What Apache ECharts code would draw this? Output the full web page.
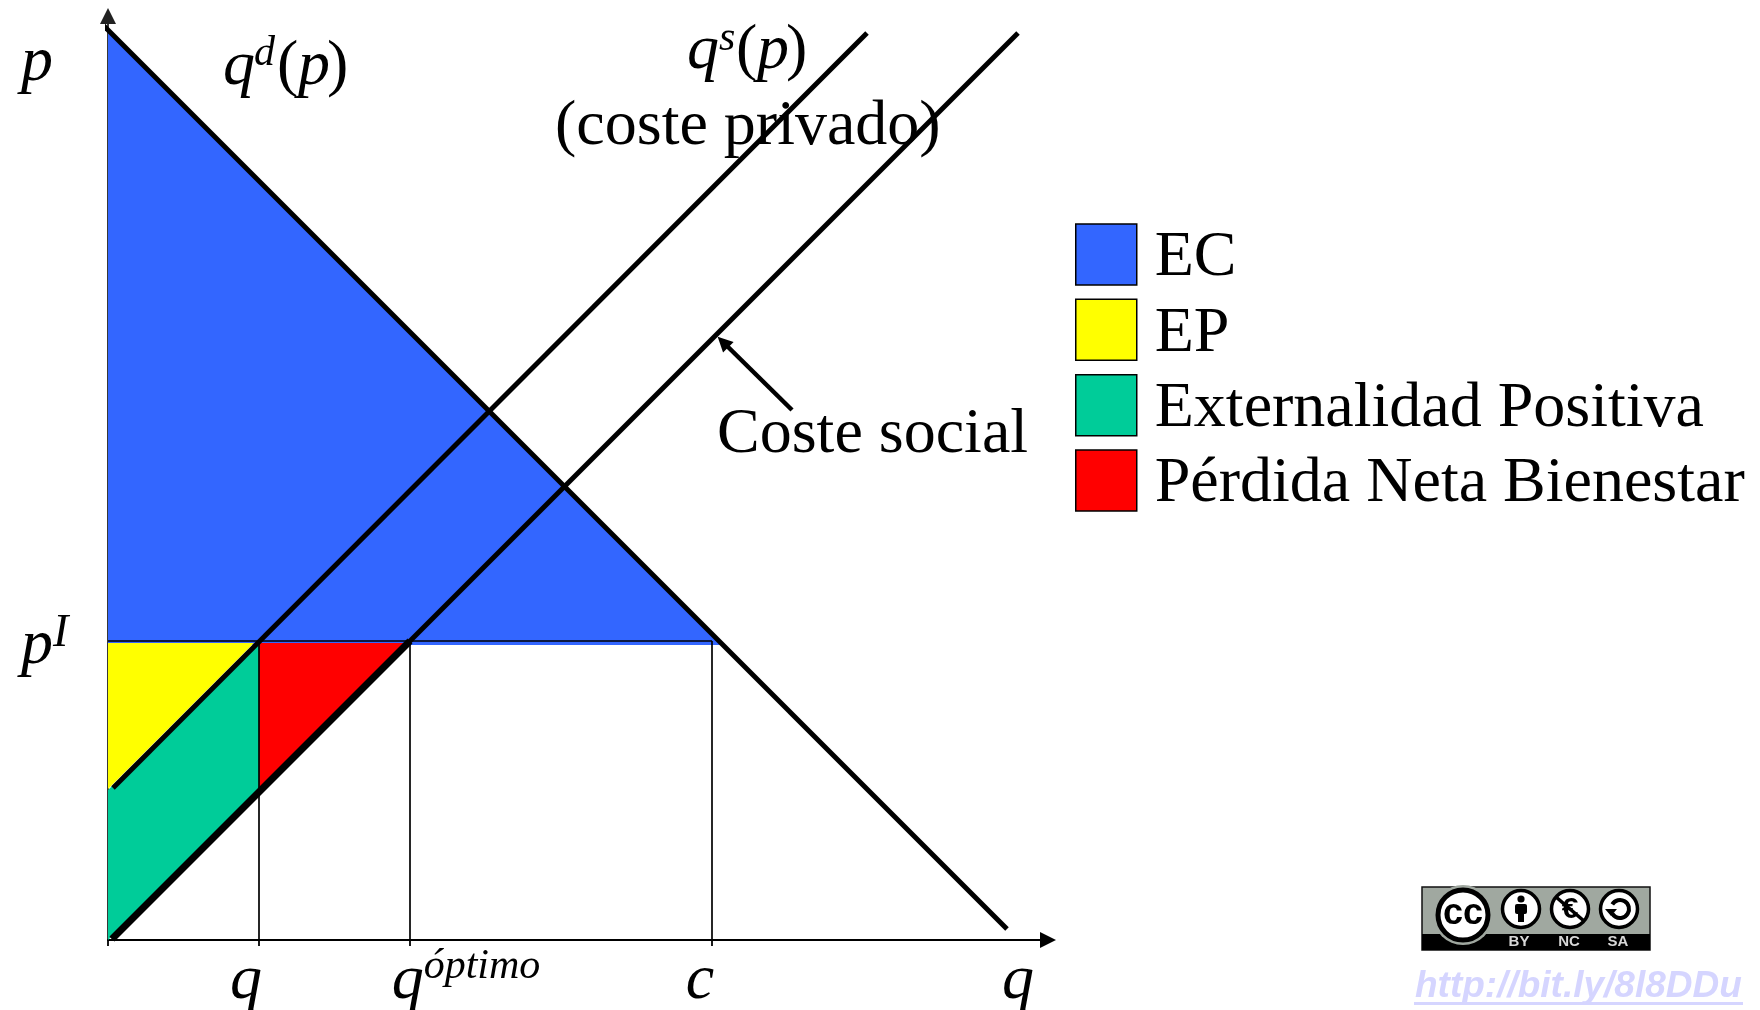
<!DOCTYPE html>
<html><head><meta charset="utf-8">
<style>html,body{margin:0;padding:0;background:#fff}#c{width:1760px;height:1010px}</style>
<script src="https://cdn.jsdelivr.net/npm/echarts@6/dist/echarts.min.js"></script>
</head><body><div id="c"></div>
<script>
// Legend categories and colours
const categories = ['EC', 'EP', 'Externalidad Positiva', 'Pérdida Neta Bienestar'];
const colours = ['#3366ff', '#ffff00', '#00cc99', '#ff0000'];
// Filled regions
const regionEC = [[0, 910], [612, 298], [612, 295], [0, 295]];
const regionEP = [[0, 297], [146, 297], [0, 151]];
const regionExt = [[0, 0], [151, 147], [151, 297], [0, 150]];
const regionLoss = [[151, 297], [296, 297], [151, 147]];
// Curves
const demand = [[-6, 916], [899, 11]];
const supplyPrivate = [[5, 152], [759, 907]];
const costSocial = [[4, 1], [910, 907]];
const costSocialLow = [[4, 1], [302, 299]];
const socialArrow = [[684, 530], [615, 598]];
// Guides and ticks
const pI = 299, qMarket = 151, qOpt = 302, qC = 604;
const xTicks = [0, qMarket, qOpt, qC];
const xLabelValues = [138, 358, 592, 910];
const xLabels = ['{i|q}', '{i|q}{sup|óptimo}', '{i|c}', '{i|q}'];
const yLabelValues = [294, 877];
const yLabels = ['{i|p}{supI|I}', '{i|p}'];

const SERIF = '"Liberation Serif"';
const ital = (size) => ({fontFamily: SERIF, fontStyle: 'italic', fontSize: size, color: '#000'});
const rich = {
  i: {...ital(64), lineHeight: 70},
  sup: {...ital(42), lineHeight: 46, verticalAlign: 'top'},
  supI: {...ital(46), lineHeight: 50, verticalAlign: 'top'}
};

function region(name, pts, color) {
  return {
    type: 'custom', name, coordinateSystem: 'cartesian2d', data: pts, clip: false, silent: true, z: 1,
    itemStyle: {color},
    renderItem(params, api) {
      if (params.dataIndex !== 0) return null;
      return {type: 'polygon', shape: {points: pts.map(p => api.coord(p))}, style: {fill: color}};
    }
  };
}
function curve(name, data, width) {
  return {type: 'line', name, data, showSymbol: false, symbol: 'none', clip: false, silent: true, z: 5,
    lineStyle: {color: '#000', width, cap: 'butt'}};
}
function thin(from, to) { return [{coord: from}, {coord: to}]; }

function text(x, base, str, size, italic) {
  return {type: 'text', z: 20, style: {x, y: base - size * 0.27, text: str, fill: '#000',
    font: (italic ? 'italic ' : '') + size + 'px ' + SERIF, verticalAlign: 'middle', textAlign: 'left'}};
}
function badge() {
  const els = [];
  els.push({type: 'rect', shape: {x: 1422, y: 887, width: 228, height: 63}, style: {fill: '#a0a8a0', stroke: '#111', lineWidth: 1.5}});
  els.push({type: 'rect', shape: {x: 1422, y: 934, width: 228, height: 16}, style: {fill: '#000'}});
  els.push({type: 'circle', shape: {cx: 1463, cy: 915, r: 30}, style: {fill: '#a0a8a0'}});
  els.push({type: 'circle', shape: {cx: 1463, cy: 915, r: 25}, style: {fill: '#fff', stroke: '#000', lineWidth: 5}});
  els.push({type: 'text', style: {x: 1463, y: 914, text: 'cc', fill: '#000', font: 'bold 36px "Liberation Sans"', textAlign: 'center', verticalAlign: 'middle'}});
  for (const cx of [1521, 1570, 1619]) {
    els.push({type: 'circle', shape: {cx, cy: 909, r: 18.5}, style: {fill: '#fff', stroke: '#000', lineWidth: 3.5}});
  }
  // BY
  els.push({type: 'circle', shape: {cx: 1521, cy: 899, r: 3.6}, style: {fill: '#000'}});
  els.push({type: 'rect', shape: {x: 1515, y: 904, width: 12, height: 10, r: 2}, style: {fill: '#000'}});
  els.push({type: 'rect', shape: {x: 1518, y: 912, width: 6, height: 10}, style: {fill: '#000'}});
  // NC
  els.push({type: 'text', style: {x: 1570, y: 910, text: '€', fill: '#000', font: 'bold 30px "Liberation Sans"', textAlign: 'center', verticalAlign: 'middle'}});
  els.push({type: 'line', shape: {x1: 1556, y1: 897, x2: 1584, y2: 921}, style: {stroke: '#000', lineWidth: 3.5}});
  // SA
  els.push({type: 'arc', shape: {cx: 1620, cy: 909, r: 9, startAngle: -2.6, endAngle: 2.6, clockwise: true}, style: {stroke: '#000', fill: 'none', lineWidth: 4}});
  els.push({type: 'polygon', shape: {points: [[1605, 909], [1617, 909], [1611, 916]]}, style: {fill: '#000'}});
  for (const [x, s] of [[1519, 'BY'], [1569, 'NC'], [1618, 'SA']]) {
    els.push({type: 'text', style: {x, y: 942, text: s, fill: '#d8d8d8', font: 'bold 15px "Liberation Sans"', textAlign: 'center', verticalAlign: 'middle'}});
  }
  return els;
}

const chart = echarts.init(document.getElementById('c'), null, {renderer: 'canvas'});
chart.setOption({
  animation: false,
  backgroundColor: '#fff',
  tooltip: {show: false},
  grid: {left: 108, top: 16, width: 940, height: 924, containLabel: false, outerBoundsMode: 'none'},
  xAxis: {
    type: 'value', min: 0, max: 940, splitLine: {show: false},
    axisLine: {onZero: false, lineStyle: {color: '#000', width: 1.8}, symbol: ['none', 'triangle'], symbolSize: [16, 16]},
    axisTick: {show: true, customValues: xTicks, length: 6, lineStyle: {color: '#000', width: 1.8}},
    axisLabel: {show: true, customValues: xLabelValues, margin: 6, hideOverlap: false, rich,
      formatter: v => xLabels[xLabelValues.indexOf(v)] || ''}
  },
  yAxis: {
    type: 'value', min: 0, max: 924, splitLine: {show: false},
    axisLine: {onZero: false, lineStyle: {color: '#222', width: 1.8}, symbol: ['none', 'triangle'], symbolSize: [16, 16]},
    axisTick: {show: false},
    axisLabel: {show: true, customValues: yLabelValues, margin: 87, align: 'left', hideOverlap: false, rich,
      formatter: v => yLabels[yLabelValues.indexOf(v)] || ''}
  },
  legend: {
    show: true, orient: 'vertical', left: 1075, top: 218.4, padding: 0, data: categories, icon: 'rect', selectedMode: false,
    itemWidth: 61, itemHeight: 61, itemGap: 3.4,
    itemStyle: {borderColor: '#000', borderWidth: 1.5},
    formatter: n => '{t|' + n + '}',
    textStyle: {rich: {t: {fontFamily: SERIF, fontSize: 64, lineHeight: 61, color: '#000', padding: [8, 0, 0, 13]}}}
  },
  series: [
    region(categories[0], regionEC, colours[0]),
    region(categories[1], regionEP, colours[1]),
    region(categories[2], regionExt, colours[2]),
    region(categories[3], regionLoss, colours[3]),
    curve('qd', demand, 5),
    curve('qs', supplyPrivate, 5),
    curve('social', costSocial, 5),
    curve('socialLow', costSocialLow, 7),
    {
      type: 'line', name: 'guides', data: [], silent: true, z: 4,
      markLine: {silent: true, animation: false, symbol: 'none', label: {show: false},
        lineStyle: {color: '#000', width: 1.7, type: 'solid'},
        data: [
          thin([0, pI], [qC, pI]),
          thin([qMarket, pI], [qMarket, 0]),
          thin([qOpt, pI], [qOpt, 0]),
          thin([qC, pI], [qC, 0])
        ]}
    },
    {
      type: 'line', name: 'arrow', data: [], silent: true, z: 6,
      markLine: {silent: true, animation: false, symbol: ['none', 'triangle'], symbolSize: 15, label: {show: false},
        lineStyle: {color: '#000', width: 4.5, type: 'solid'},
        data: [thin(socialArrow[0], socialArrow[1])]}
    }
  ],
  graphic: {elements: [
    text(223, 84, 'q', 64, true),
    text(254, 65, 'd', 42, true),
    text(277, 84, '(', 64, false),
    text(298, 84, 'p', 64, true),
    text(327, 84, ')', 64, false),
    text(687, 68, 'q', 64, true),
    text(719, 50, 's', 42, true),
    text(736, 68, '(', 64, false),
    text(757, 68, 'p', 64, true),
    text(786, 68, ')', 64, false),
    text(555, 144, '(coste privado)', 64, false),
    text(717, 452, 'Coste social', 64, false),
    {type: 'text', z: 20, style: {x: 1415, y: 987, text: 'http://bit.ly/8l8DDu', fill: '#d5d5ff',
      font: 'italic bold 37px "Liberation Sans"', verticalAlign: 'middle', textAlign: 'left'}},
    {type: 'rect', z: 20, shape: {x: 1414, y: 1002, width: 329, height: 3}, style: {fill: '#d5d5ff'}},
    ...badge()
  ]}
});
</script></body></html>
